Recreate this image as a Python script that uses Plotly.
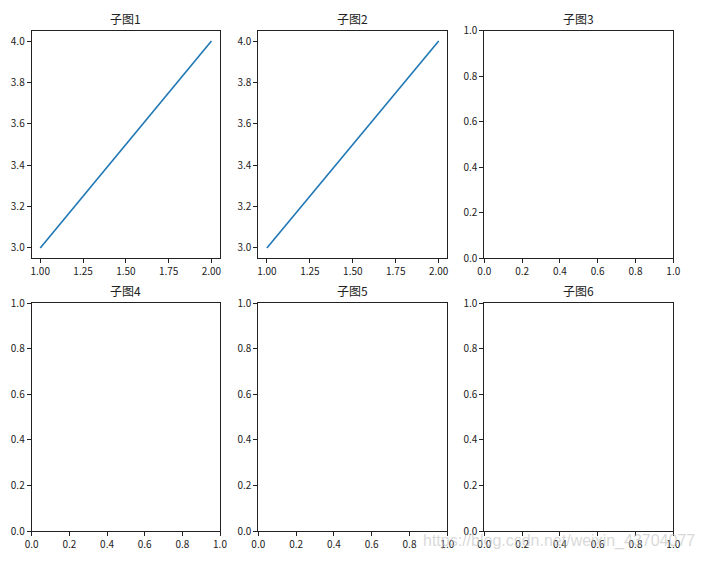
import plotly.graph_objects as go

# Data
line_x = [1, 2]
line_y = [3, 4]
titles = ["子图1", "子图2", "子图3", "子图4", "子图5", "子图6"]
line_x_ticks = [1.00, 1.25, 1.50, 1.75, 2.00]
line_y_ticks = [3.0, 3.2, 3.4, 3.6, 3.8, 4.0]
empty_ticks = [0.0, 0.2, 0.4, 0.6, 0.8, 1.0]
watermark = "https://blog.csdn.net/weixin_43704077"

OFF = 8  # browser default body margin
W, H = 705 - OFF, 561 - OFF
col_px = [(31.7, 220.0), (258.3, 447.3), (484.3, 673.3)]
row_px = [(30.7, 258.3), (303.3, 531.0)]


def px_x(v):
    return (v - OFF) / W


def px_y(v):
    return 1 - (v - OFF) / H


fig = go.Figure()
tick_font = dict(family="Noto Sans CJK SC, DejaVu Sans", size=10, color="#222222")

idx = 0
for r, (top, bot) in enumerate(row_px):
    for c, (left, right) in enumerate(col_px):
        idx += 1
        xa = "xaxis" if idx == 1 else f"xaxis{idx}"
        ya = "yaxis" if idx == 1 else f"yaxis{idx}"
        xref = "x" if idx == 1 else f"x{idx}"
        yref = "y" if idx == 1 else f"y{idx}"
        xd = [px_x(left), px_x(right)]
        yd = [px_y(bot), px_y(top)]
        common = dict(showgrid=False, zeroline=False, showline=True, mirror=True,
                      linecolor="#222222", linewidth=1, ticks="outside", ticklen=4,
                      tickwidth=1, tickcolor="#222222", tickfont=tick_font, automargin=False)
        if idx <= 2:
            fig.add_trace(go.Scatter(x=line_x, y=line_y, mode="lines",
                                     line=dict(color="#1f77b4", width=1.6),
                                     xaxis=xref, yaxis=yref, showlegend=False))
            xr = [min(line_x) - 0.05 * (max(line_x) - min(line_x)), max(line_x) + 0.05 * (max(line_x) - min(line_x))]
            yr = [min(line_y) - 0.05 * (max(line_y) - min(line_y)), max(line_y) + 0.05 * (max(line_y) - min(line_y))]
            fig.layout[xa] = dict(domain=xd, anchor=yref, range=xr, tickvals=line_x_ticks,
                                  ticktext=[f"{v:.2f}" for v in line_x_ticks], **common)
            fig.layout[ya] = dict(domain=yd, anchor=xref, range=yr, tickvals=line_y_ticks,
                                  ticktext=[f"{v:.1f}" for v in line_y_ticks], **common)
        else:
            fig.add_trace(go.Scatter(x=[], y=[], xaxis=xref, yaxis=yref, showlegend=False))
            fig.layout[xa] = dict(domain=xd, anchor=yref, range=[0, 1], tickvals=empty_ticks,
                                  ticktext=[f"{v:.1f}" for v in empty_ticks], **common)
            fig.layout[ya] = dict(domain=yd, anchor=xref, range=[0, 1], tickvals=empty_ticks,
                                  ticktext=[f"{v:.1f}" for v in empty_ticks], **common)
        fig.add_annotation(text=titles[idx - 1], xref="paper", yref="paper",
                           x=(xd[0] + xd[1]) / 2, y=yd[1], xanchor="center", yanchor="bottom",
                           yshift=2, showarrow=False,
                           font=dict(family="Noto Sans CJK SC", size=12, color="#222222"))

# toolbar fragment at top right
fig.add_shape(type="rect", xref="paper", yref="paper", x0=px_x(523), x1=px_x(688),
              y0=px_y(5), y1=px_y(-2), line=dict(color="#c8d0d8", width=1))
for xv in [557, 590, 623, 656]:
    fig.add_shape(type="line", xref="paper", yref="paper", x0=px_x(xv), x1=px_x(xv),
                  y0=px_y(5), y1=px_y(-2), line=dict(color="#c8d0d8", width=1))

# watermark
fig.add_annotation(text=watermark, xref="paper", yref="paper", x=px_x(697), y=px_y(541),
                   xanchor="right", yanchor="middle", showarrow=False,
                   font=dict(family="Liberation Sans, Arial", size=16, color="rgba(190,190,190,0.6)"))

fig.update_layout(width=W, height=H, margin=dict(l=0, r=0, t=0, b=0),
                  paper_bgcolor="white", plot_bgcolor="white")
fig.write_html("out.html")
